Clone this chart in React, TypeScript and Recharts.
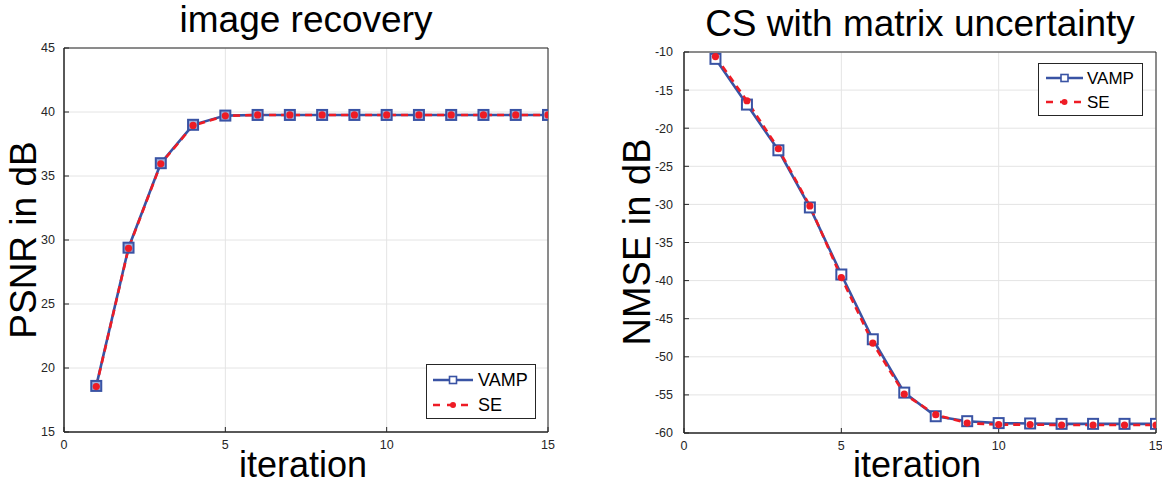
import React from 'react';
import { LineChart, Line, XAxis, YAxis, CartesianGrid, Legend, ReferenceArea } from 'recharts';

const iterations = [1, 2, 3, 4, 5, 6, 7, 8, 9, 10, 11, 12, 13, 14, 15];
const psnrVamp = [18.6, 29.4, 36.0, 39.0, 39.72, 39.77, 39.77, 39.77, 39.77, 39.77, 39.77, 39.77, 39.77, 39.77, 39.77];
const psnrSe = [18.55, 29.35, 35.95, 38.95, 39.7, 39.77, 39.77, 39.77, 39.77, 39.77, 39.77, 39.77, 39.77, 39.77, 39.77];
const nmseVamp = [-10.9, -16.9, -22.9, -30.4, -39.2, -47.7, -54.7, -57.8, -58.45, -58.7, -58.75, -58.8, -58.8, -58.8, -58.8];
const nmseSe = [-10.6, -16.4, -22.7, -30.2, -39.6, -48.2, -54.9, -57.6, -58.7, -58.9, -58.9, -58.95, -58.95, -58.95, -58.95];

const xTicks = [0, 5, 10, 15];
const psnrTicks = [15, 20, 25, 30, 35, 40, 45];
const nmseTicks = [-60, -55, -50, -45, -40, -35, -30, -25, -20, -15, -10];

const titles = ['image recovery', 'CS with matrix uncertainty'];
const yLabels = ['PSNR in dB', 'NMSE in dB'];
const xLabel = 'iteration';
const seriesNames = ['VAMP', 'SE'];

const BLUE = '#3953a4';
const RED = '#ee1c25';
const AXIS = '#262626';
const GRID = '#e4e4e4';
const FONT = '"Liberation Sans", Arial, Helvetica, sans-serif';

const psnrData = iterations.map((it, i) => ({ it, vamp: psnrVamp[i], se: psnrSe[i] }));
const nmseData = iterations.map((it, i) => ({ it, vamp: nmseVamp[i], se: nmseSe[i] }));

const makeSquare = (fill: string) => (props: any) => {
  const { cx, cy, index } = props;
  if (cx == null || cy == null) return <g key={`s${index}`} />;
  return (
    <rect key={`s${index}`} x={cx - 5} y={cy - 5} width={10} height={10} fill={fill} stroke={BLUE} strokeWidth={2} />
  );
};

const circleDot = (props: any) => {
  const { cx, cy, index } = props;
  if (cx == null || cy == null) return <g key={`c${index}`} />;
  return <circle key={`c${index}`} cx={cx} cy={cy} r={3.6} fill={RED} stroke="none" />;
};

const makeLegend = (w: number, h: number, r1: number, r2: number, lx1: number, lx2: number, tx: number, fs: number, sqFill: string) => () => (
  <svg width={w} height={h} style={{ display: 'block' }}>
    <rect x={0.5} y={0.5} width={w - 1} height={h - 1} fill="#fff" stroke={AXIS} strokeWidth={1} />
    <line x1={lx1} x2={lx2} y1={r1} y2={r1} stroke={BLUE} strokeWidth={2.5} />
    <rect x={(lx1 + lx2) / 2 - 3.5} y={r1 - 3.5} width={7} height={7} fill={sqFill} stroke={BLUE} strokeWidth={1.6} />
    <text x={tx} y={r1} dy="0.36em" fontSize={fs} fontFamily={FONT} fill="#000">{seriesNames[0]}</text>
    <line x1={lx1} x2={lx2} y1={r2} y2={r2} stroke={RED} strokeWidth={2.5} strokeDasharray="7 7" strokeDashoffset={0} />
    <circle cx={(lx1 + lx2) / 2} cy={r2} r={3} fill={RED} />
    <text x={tx} y={r2} dy="0.36em" fontSize={fs} fontFamily={FONT} fill="#000">{seriesNames[1]}</text>
  </svg>
);

const tickStyle = { fontSize: 12.5, fill: AXIS, fontFamily: FONT };
const blank = () => '';

export default function App() {
  return (
    <div style={{ position: 'absolute', left: 0, top: 0, width: 1162, height: 490, background: '#fff', overflow: 'hidden' }}>
      <div style={{ position: 'absolute', left: 0, top: 0 }}>
        <LineChart width={580} height={490} data={psnrData} margin={{ top: 48, right: 32, bottom: 28, left: 0 }}>
          <CartesianGrid stroke={GRID} strokeWidth={1} />
          <XAxis dataKey="it" type="number" domain={[0, 15]} ticks={xTicks} height={30} stroke={AXIS}
            tickSize={-5} tickMargin={13} tick={tickStyle} allowDataOverflow />
          <XAxis xAxisId="top" orientation="top" dataKey="it" type="number" domain={[0, 15]} ticks={xTicks} height={0} stroke={AXIS}
            tickSize={-5} tickFormatter={blank} allowDataOverflow />
          <YAxis type="number" domain={[15, 45]} ticks={psnrTicks} width={64} stroke={AXIS}
            tickSize={-5} tickMargin={14} tick={tickStyle} allowDataOverflow />
          <YAxis yAxisId="right" orientation="right" type="number" domain={[15, 45]} ticks={psnrTicks} width={0} stroke={AXIS}
            tickSize={-5} tickFormatter={blank} allowDataOverflow />
          <ReferenceArea x1={0} x2={15} y1={15} y2={45} fill="none" fillOpacity={0} stroke={AXIS} strokeWidth={1} ifOverflow="visible" />
          <Line dataKey="vamp" name={seriesNames[0]} stroke={BLUE} strokeWidth={2.6} dot={makeSquare('#9fb0db')} isAnimationActive={false} />
          <Line dataKey="se" name={seriesNames[1]} stroke={RED} strokeWidth={2.6} strokeDasharray="7 5" dot={circleDot} isAnimationActive={false} />
          <Legend layout="vertical" align="center" verticalAlign="middle" content={makeLegend(110, 55, 16, 41, 7, 47, 52, 18, '#fff')}
            wrapperStyle={{ position: 'absolute', left: 426, top: 364, width: 110, height: 55, bottom: 'auto', right: 'auto' }} />
        </LineChart>
      </div>
      <div style={{ position: 'absolute', left: 600, top: 0 }}>
        <LineChart width={562} height={490} data={nmseData} margin={{ top: 52, right: 6, bottom: 27, left: 0 }}>
          <CartesianGrid stroke={GRID} strokeWidth={1} />
          <XAxis dataKey="it" type="number" domain={[0, 15]} ticks={xTicks} height={30} stroke={AXIS}
            tickSize={-5} tickMargin={13} tick={tickStyle} allowDataOverflow />
          <XAxis xAxisId="top" orientation="top" dataKey="it" type="number" domain={[0, 15]} ticks={xTicks} height={0} stroke={AXIS}
            tickSize={-5} tickFormatter={blank} allowDataOverflow />
          <YAxis type="number" domain={[-60, -10]} ticks={nmseTicks} width={84} stroke={AXIS}
            tickSize={-5} tickMargin={16} tick={tickStyle} allowDataOverflow />
          <YAxis yAxisId="right" orientation="right" type="number" domain={[-60, -10]} ticks={nmseTicks} width={0} stroke={AXIS}
            tickSize={-5} tickFormatter={blank} allowDataOverflow />
          <ReferenceArea x1={0} x2={15} y1={-60} y2={-10} fill="none" fillOpacity={0} stroke={AXIS} strokeWidth={1} ifOverflow="visible" />
          <Line dataKey="vamp" name={seriesNames[0]} stroke={BLUE} strokeWidth={2.6} dot={makeSquare('#fff')} isAnimationActive={false} />
          <Line dataKey="se" name={seriesNames[1]} stroke={RED} strokeWidth={2.6} strokeDasharray="7 5" dot={circleDot} isAnimationActive={false} />
          <Legend layout="vertical" align="center" verticalAlign="middle" content={makeLegend(105, 53, 15, 39, 8, 45, 49, 17, '#fff')}
            wrapperStyle={{ position: 'absolute', left: 438, top: 63, width: 105, height: 53, bottom: 'auto', right: 'auto' }} />
        </LineChart>
      </div>
      <svg width={1162} height={490} style={{ position: 'absolute', left: 0, top: 0, pointerEvents: 'none' }}>
        <g fontFamily={FONT} fill="#000">
          <text x={306} y={32} fontSize={37} textAnchor="middle">{titles[0]}</text>
          <text x={920} y={36} fontSize={37} textAnchor="middle">{titles[1]}</text>
          <text transform="translate(36,240) rotate(-90)" fontSize={37} textAnchor="middle">{yLabels[0]}</text>
          <text transform="translate(650,242) rotate(-90)" fontSize={38} textAnchor="middle">{yLabels[1]}</text>
          <text x={303} y={477} fontSize={36} textAnchor="middle">{xLabel}</text>
          <text x={917} y={477} fontSize={36} textAnchor="middle">{xLabel}</text>
        </g>
      </svg>
    </div>
  );
}
